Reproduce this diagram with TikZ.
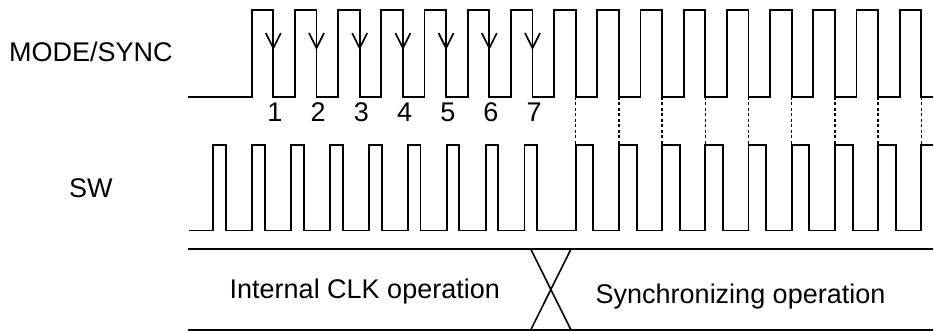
\documentclass[tikz,border=0pt]{standalone}
\usepackage{fontspec}
\setmainfont{Liberation Sans}
\usepackage{tikz}
\usetikzlibrary{arrows.meta}

\tikzset{
  wave/.style={black,line width=1.9pt,line join=miter},
  syncline/.style={black,line width=1.5pt,dash pattern=on 3pt off 2.5pt},
  edgearrow/.style={black,line width=1.9pt,-{Straight Barb[length=15pt,width=15pt,line width=1.7pt]}},
  sig/.style={inner sep=0pt,font=\fontsize{27}{32}\selectfont},
}

\begin{document}
\begin{tikzpicture}[x=1pt,y=-1pt]
\useasboundingbox (0,0) rectangle (934,331);
% signal names
\node[sig,anchor=base west] (mode) at (9,61.7) {MODE/SYNC};
\node[sig,anchor=base west] (sw) at (69,197.3) {SW};
% MODE/SYNC: 16 external clock pulses
\draw[wave] (188,96.7)
  \foreach \k in {0,...,15} {
    -- ({251.7+43.2*\k},96.7) -- ({251.7+43.2*\k},10)
    -- ({273.3+43.2*\k},10) -- ({273.3+43.2*\k},96.7)
  } -- (933,96.7);
% falling edges counted 1..7
\foreach \k in {1,...,7}
  \draw[edgearrow] ({273.3+43.2*(\k-1)},10) -- ({273.3+43.2*(\k-1)},50);
\foreach \k in {1,...,7}
  \node[sig,anchor=base] (n\k) at ({275+43.2*(\k-1)},121.7) {\k};
% SW: internal clock, then locked to MODE/SYNC
\draw[wave] (189,230.5)
  \foreach \k in {0,...,8} {
    -- ({213.3+38.9*\k},230.5) -- ({213.3+38.9*\k},145)
    -- ({226+38.9*\k},145) -- ({226+38.9*\k},230.5)
  }
  \foreach \k in {7,...,14} {
    -- ({273.3+43.2*\k},230.5) -- ({273.3+43.2*\k},145)
    -- ({291+43.2*\k},145) -- ({291+43.2*\k},230.5)
  } -- ({273.3+43.2*15},230.5) -- ({273.3+43.2*15},145) -- (933,145);
\foreach \k in {7,...,15}
  \draw[syncline] ({273.3+43.2*\k},96.7) -- ({273.3+43.2*\k},145);
% operation state
\draw[wave] (187.7,249) -- (933,249);
\draw[wave] (187.7,330) -- (933,330);
\draw[line width=1.6pt] (530.7,249) -- (571,330);
\draw[line width=1.6pt] (571,249) -- (530.7,330);
\node[sig,anchor=base west] (internal) at (229.5,298.3) {Internal CLK operation};
\node[sig,anchor=base west] (synced) at (595.5,303.3) {Synchronizing operation};
\end{tikzpicture}
\end{document}
